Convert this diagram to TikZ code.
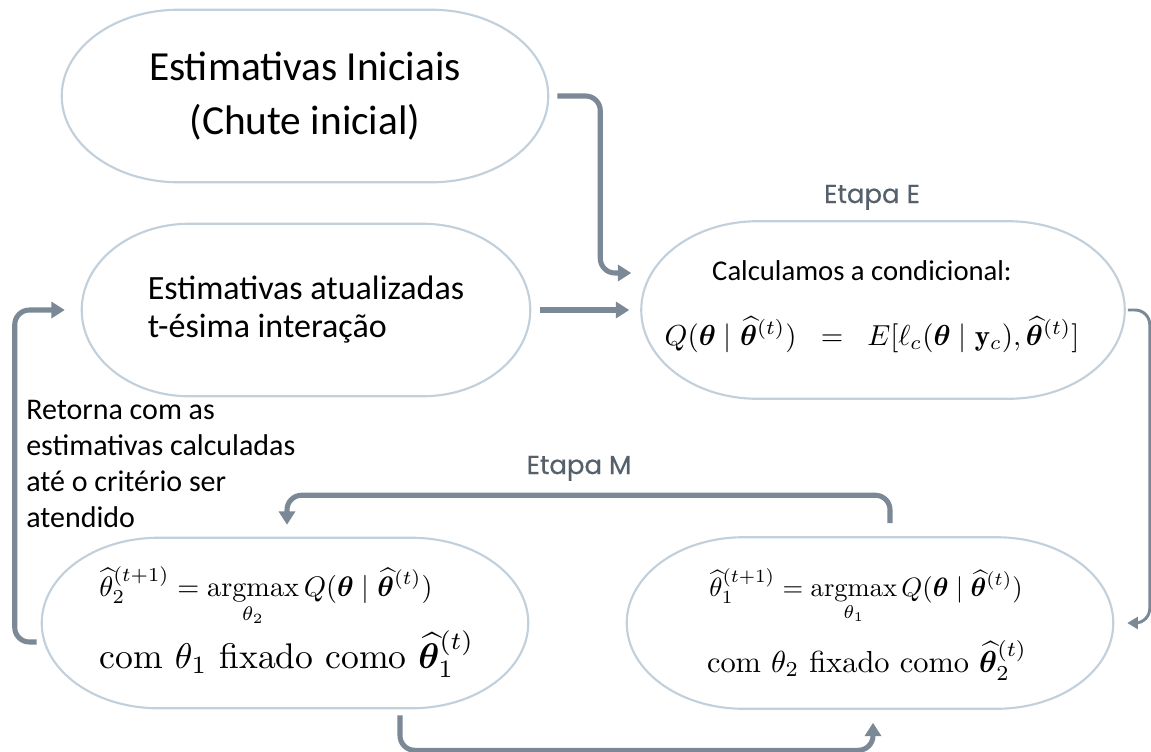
\RequirePackage{fix-cm}
\documentclass[tikz,border=0pt]{standalone}
\usepackage{amsmath}
\usepackage{bm}
\usepackage{graphicx}
\usepackage{fontspec}
\newfontfamily\calibri{Carlito}
\newfontfamily\etapafont[FakeBold=0.6]{Poppins}
\usetikzlibrary{calc}
\usetikzlibrary{arrows.meta}

\definecolor{flowgray}{HTML}{7B8895}
\definecolor{rimblue}{HTML}{C2D0DC}
\definecolor{etapagray}{HTML}{55606B}

\newcommand{\px}{0.75pt}
\newcommand{\blob}[1]{%
  \draw[rim] let \p1=(#1.north west), \p2=(#1.south east),
    \n1={0.24*(\x2-\x1)}, \n2={0.5*(\y1-\y2)} in
    ([xshift=\n1]#1.north west) -- ([xshift=-\n1]#1.north east)
    arc[start angle=90, end angle=-90, x radius=\n1, y radius=\n2]
    -- ([xshift=\n1]#1.south west)
    arc[start angle=270, end angle=90, x radius=\n1, y radius=\n2] -- cycle;}

\tikzset{
  stage/.style n args={2}{draw=none, inner sep=0pt, align=center,
    minimum width={#1*\px}, minimum height={#2*\px}},
  formula/.style={inner sep=0pt, anchor=base},
  rim/.style={rimblue, line width=1.6pt},
  flow/.style={flowgray, line width=3.8pt, rounded corners=11pt,
    -{Triangle[length=10pt, width=12pt]}},
  slimflow/.style={flow, line width=2.2pt, -{Triangle[length=8pt, width=9pt]}},
  etapa/.style={etapagray, inner sep=0pt, anchor=base, font=\etapafont\fontsize{19.5}{22}\selectfont},
  note/.style={inner sep=0pt, align=left, font=\calibri\fontsize{22.5}{27}\selectfont},
}

\begin{document}
\begin{tikzpicture}[x=0.75pt, y=0.75pt]
  \useasboundingbox (0,0) rectangle (1151,-751);

  % Stages
  \node[stage={486}{172}, font=\calibri\fontsize{31}{40}\selectfont] (init) at (305,-96)
    {Estimativas Iniciais\\(Chute inicial)};
  \node[stage={448}{172}, align=left, font=\calibri\fontsize{25.5}{28.5}\selectfont] (atual) at (306,-310)
    {Estimativas atualizadas\\t-ésima interação};
  \node[stage={483}{177}] (cond) at (883,-310) {};
  \node[stage={486}{170}] (mleft) at (285,-623) {};
  \node[stage={486}{171}] (mright) at (870,-623) {};
  \foreach \stg in {init, atual, cond, mleft, mright} {\blob{\stg}}

  % Texts inside the stages
  \node[formula, font=\calibri\fontsize{21.5}{26}\selectfont] (condA) at (862,-280) {Calculamos a condicional:};
  \node[formula] (condB) at (872,-345)
    {\resizebox{311pt}{!}{$Q(\bm{\theta}\mid\widehat{\bm{\theta}}^{(t)})\;\;=\;\;E[\ell_c(\bm{\theta}\mid\mathbf{y}_c),\widehat{\bm{\theta}}^{(t)}]$}};
  \node[formula] (mleftA) at (266,-596)
    {\resizebox{250pt}{!}{$\displaystyle\widehat{\theta}_2^{(t+1)}=\operatorname*{argmax}_{\theta_2} Q(\bm{\theta}\mid\widehat{\bm{\theta}}^{(t)})$}};
  \node[formula] (mleftB) at (287,-668)
    {\resizebox{281pt}{!}{com $\theta_1$ fixado como $\widehat{\bm{\theta}}_1^{(t)}$}};
  \node[formula] (mrightA) at (866,-596)
    {\resizebox{235pt}{!}{$\displaystyle\widehat{\theta}_1^{(t+1)}=\operatorname*{argmax}_{\theta_1} Q(\bm{\theta}\mid\widehat{\bm{\theta}}^{(t)})$}};
  \node[formula] (mrightB) at (867,-672)
    {\resizebox{240pt}{!}{com $\theta_2$ fixado como $\widehat{\bm{\theta}}_2^{(t)}$}};

  % Labels
  \node[etapa] (etapaE) at (872,-203) {Etapa E};
  \node[etapa] (etapaM) at (579,-474) {Etapa M};
  \node[note, anchor=north west] (retorna) at (26,-400)
    {Retorna com as\\estimativas calculadas\\até o critério ser\\atendido};

  % Connectors
  \draw[flow] ($(init.east)+(9,0)$) -- ++(43,0) |- ($(cond.west)+(-10,37)$);
  \draw[flow] ($(atual.east)+(10,0)$) -- ($(cond.west)+(-12,0)$);
  \draw[slimflow] ($(cond.east)+(3,0)$) -- ++(22,0) |- ($(mright.east)+(14,0)$);
  \draw[flow] ($(mright.north)+(20,14)$) -- ++(0,28) -| ($(mleft.north)+(2,13)$);
  \draw[flow] ($(mleft.south)+(115,-7)$) -- ++(0,-35) -| ($(mright.south)+(3,-14)$);
  \draw[flow] ($(mleft.west)+(-5,-19)$) -- ++(-22,0) |- ($(atual.west)+(-17,0)$);
\end{tikzpicture}
\end{document}
